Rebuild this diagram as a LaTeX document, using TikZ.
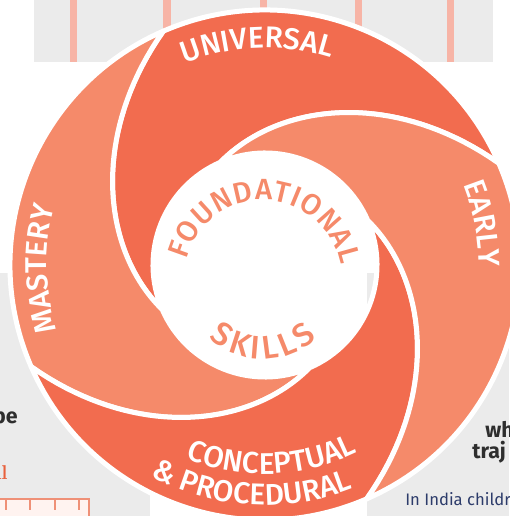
\documentclass[tikz,border=0pt]{standalone}
\usepackage{fontspec}
\usepackage{tikz}
\usetikzlibrary{decorations.text}

\definecolor{wheeldark}{HTML}{F26C4F}
\definecolor{wheellight}{HTML}{F58A6A}
\definecolor{panelgrey}{HTML}{EBEBEB}
\definecolor{barpink}{HTML}{F7B4A6}
\definecolor{boxpink}{HTML}{FFF3F0}
\definecolor{inkgrey}{HTML}{2E2E2E}
\definecolor{inknavy}{HTML}{2D3C6B}
\definecolor{inkred}{HTML}{E8603C}

\IfFontExistsTF{Fira Sans Medium}
  {\newcommand{\wheelface}{Fira Sans Medium}}
  {\newcommand{\wheelface}{Fira Sans}}
\newfontfamily\wheelfont{\wheelface}
\newfontfamily\notefont{Fira Sans}

\newcommand{\ringlabel}{\color{white}\wheelfont\fontsize{22.5}{22.5}\selectfont}
\newcommand{\hublabel}{\color{wheellight}\wheelfont\fontsize{22}{22}\selectfont}
\newcommand{\skillslabel}{\color{wheellight}\wheelfont\fontsize{24.5}{24.5}\selectfont}

\newcommand{\Rout}{255}
\newcommand{\Rin}{112}
\newcommand{\Dspin}{90}

% one swirl blade: #1 start angle of its outer arc, #2 colour
\newcommand{\blade}[2]{%
  \path[fill=#2, draw=white, line width=3.75pt, line join=round]
    (#1:\Rout) arc[start angle=#1, end angle=#1+90, radius=\Rout]
    -- plot[domain=0:\Dspin, samples=45]
       ({#1+90+\x}:{\Rin+(\Rout-\Rin)*(1-\x/\Dspin)*exp(-0.7*\x/\Dspin)})
    arc[start angle=#1+90+\Dspin, end angle=#1+\Dspin, radius=\Rin]
    -- plot[domain=\Dspin:0, samples=45]
       ({#1+\x}:{\Rin+(\Rout-\Rin)*(1-\x/\Dspin)*exp(-0.7*\x/\Dspin)})
    -- cycle;}

\tikzset{
  ringtext/.style={decorate, decoration={text along path,
      text align={align=center}, text={|\ringlabel|#1}}},
  hubtext/.style={decorate, decoration={text along path,
      text align={align=center}, text={|\hublabel|#1}}},
  skillstext/.style={decorate, decoration={text along path,
      text align={align=center}, text={|\skillslabel|#1}}},
  noteword/.style={inner sep=0pt, text=inkgrey, font=\notefont\bfseries\fontsize{16}{19}\selectfont},
}

\begin{document}
\begin{tikzpicture}[x=0.75pt,y=0.75pt]
  \useasboundingbox (-265,-251) rectangle (244,265);
  % backdrop panels
  \fill[panelgrey] (-231,203) rectangle (228,265);
  \foreach \bx in {-191,-98,-2,93,185}
    \fill[barpink] (\bx-3.5,203) rectangle (\bx+3.5,265);
  \fill[panelgrey] (-265,-251) rectangle (-115,-8);
  \fill[panelgrey] (102,-251) rectangle (244,-8);
  % cut-off bits of the page around the wheel
  \node[noteword, anchor=base east] (wordbe) at (-247,-158) {be};
  \node[anchor=base east, inner sep=0pt, text=inkred, font=\rmfamily\bfseries\fontsize{15}{18}\selectfont] (wordal) at (-257,-214) {al};
  \draw[inkred!70, line width=1.5pt, fill=boxpink] (-266,-260) rectangle (-176,-234);
  \foreach \tx in {-259,-235,-210,-186}
    \draw[inkred!70, line width=1.5pt] (\tx,-234) -- (\tx,-245);
  \node[noteword, anchor=base west] (wordwh) at (220,-172) {wh};
  \node[noteword, anchor=base west] (wordtraj) at (207,-193) {traj};
  \node[anchor=base west, inner sep=0pt, text=inknavy, font=\notefont\fontsize{12.5}{15}\selectfont] (wordindia) at (140,-240) {In India childr};
  % the four blades
  \blade{23.5}{wheeldark}   % universal
  \blade{113.5}{wheellight} % mastery
  \blade{203.5}{wheeldark}  % conceptual
  \blade{293.5}{wheellight} % early
  % ring labels
  \path[ringtext=UNIVERSAL] (152:217) arc[start angle=152, end angle=32, radius=217];
  \path[ringtext=EARLY] (70.8:214) arc[start angle=70.8, end angle=-49.2, radius=214];
  \path[ringtext=MASTERY] (241:218) arc[start angle=241, end angle=121, radius=218];
  \path[ringtext=CONCEPTUAL] (212:209) arc[start angle=212, end angle=332, radius=209];
  \path[ringtext={{\&} PROCEDURAL}] (206.5:240) arc[start angle=206.5, end angle=326.5, radius=240];
  % hub labels
  \begin{scope}[shift={(-2,-14)}]
    \path[hubtext={{F\kern.6pt}{O\kern.6pt}{U\kern.6pt}{N\kern.6pt}{D\kern.6pt}{A\kern.6pt}{T\kern.6pt}{I\kern.6pt}{O\kern.6pt}{N\kern.6pt}{A\kern.6pt}L}]
      (182:79) arc[start angle=182, end angle=-6, radius=79];
    \path[skillstext={{S\kern2.8pt}{K\kern2.8pt}{I\kern2.8pt}{L\kern2.8pt}{L\kern2.8pt}S}]
      (200:80) arc[start angle=200, end angle=340, radius=80];
  \end{scope}
\end{tikzpicture}
\end{document}
